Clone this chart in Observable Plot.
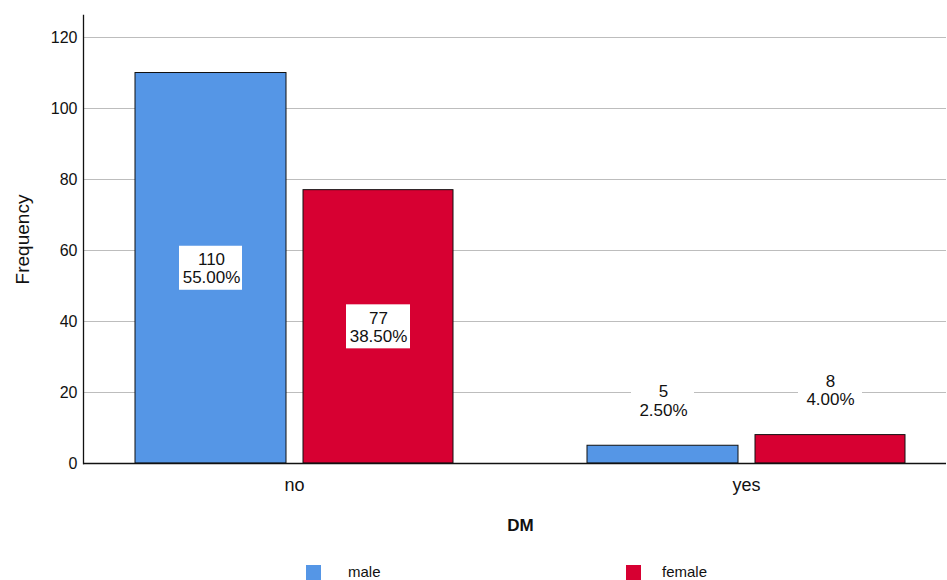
<!DOCTYPE html>
<html>
<head>
<meta charset="utf-8">
<script src="https://cdn.jsdelivr.net/npm/d3@7"></script>
<script src="https://cdn.jsdelivr.net/npm/@observablehq/plot@0.6"></script>
<style>
  body { margin: 0; background: #fff; font-family: "Liberation Sans", Arial, sans-serif; }
  #legend { position: relative; width: 947px; height: 30px; font-size: 15px; color: #111; }
  .item { position: absolute; top: 15px; display: flex; align-items: center; }
  .sw { width: 15px; height: 15px; display: inline-block; }
</style>
</head>
<body>
<div id="chart"></div>
<div id="legend"></div>
<script>
const categories = ["no", "yes"];
const sexes = ["male", "female"];
const maleCounts = [110, 5];
const femaleCounts = [77, 8];
const malePercents = ["55.00%", "2.50%"];
const femalePercents = ["38.50%", "4.00%"];
const yTicks = [0, 20, 40, 60, 80, 100, 120];
const colors = ["#5596E6", "#D70032"];

const male = categories.map((c, i) => ({dm: c, sex: "male", n: maleCounts[i], pct: malePercents[i]}));
const female = categories.map((c, i) => ({dm: c, sex: "female", n: femaleCounts[i], pct: femalePercents[i]}));

// label centre: middle of the bar if tall, else above it
const labelY = d => d.n > 20 ? d.n / 2 : d.n + 12.7;
const boxH = 6.2;

const font = "'Liberation Sans', Arial, sans-serif";

const chart = Plot.plot({
  width: 947,
  height: 550,
  marginLeft: 83,
  marginRight: 1,
  marginTop: 15,
  marginBottom: 87,
  style: {fontFamily: font, color: "#111", background: "white"},
  x: {domain: categories, paddingInner: 0.296, paddingOuter: 0.1025, align: 0.56},
  y: {domain: [0, 126.2]},
  marks: [
    Plot.gridY(yTicks, {stroke: "#bdbdbd", strokeOpacity: 1, strokeWidth: 1}),
    Plot.barY(male, {x: "dm", y: "n", fill: colors[0], stroke: "#111", strokeWidth: 1, insetRight: 167}),
    Plot.barY(female, {x: "dm", y: "n", fill: colors[1], stroke: "#111", strokeWidth: 1, insetLeft: 168}),
    // white label boxes
    Plot.barY(male, {x: "dm", y1: d => labelY(d) - boxH, y2: d => labelY(d) + boxH, fill: "white", insetLeft: 44, insetRight: 211}),
    Plot.barY(female, {x: "dm", y1: d => labelY(d) - boxH, y2: d => labelY(d) + boxH, fill: "white", insetLeft: 211, insetRight: 43}),
    Plot.text(male, {x: "dm", y: labelY, text: d => d.n + "\n" + d.pct, dx: -83, fontSize: 17, lineHeight: 1.08, fill: "#111", fontFamily: font}),
    Plot.text(female, {x: "dm", y: labelY, text: d => d.n + "\n" + d.pct, dx: 84, fontSize: 17, lineHeight: 1.08, fill: "#111", fontFamily: font}),
    Plot.ruleY([0], {stroke: "#111", strokeWidth: 1.3}),
    Plot.frame({anchor: "left", stroke: "#111", strokeWidth: 1.3}),
    Plot.axisY(yTicks, {tickSize: 0, tickPadding: 6, fontSize: 16, label: null, fill: "#111"}),
    Plot.axisX({tickSize: 0, tickPadding: 15, fontSize: 18, label: null, fill: "#111"}),
    Plot.text(["Frequency"], {frameAnchor: "left", textAnchor: "middle", dx: -61, dy: 0, rotate: -90, fontSize: 19, fill: "#111"}),
    Plot.text(["DM"], {frameAnchor: "bottom", dx: 5.5, dy: 67, fontSize: 17, fontWeight: "bold", fill: "#111"})
  ]
});
document.getElementById("chart").appendChild(chart);

const legend = document.getElementById("legend");
const legendPos = [[306, 348], [626, 662]];
sexes.forEach((s, i) => {
  const sw = document.createElement("div");
  sw.className = "item";
  sw.style.left = legendPos[i][0] + "px";
  sw.innerHTML = `<span class="sw" style="background:${colors[i]}"></span>`;
  legend.appendChild(sw);
  const lab = document.createElement("div");
  lab.className = "item";
  lab.style.left = legendPos[i][1] + "px";
  lab.style.top = "13px";
  lab.textContent = s;
  legend.appendChild(lab);
});
</script>
</body>
</html>
